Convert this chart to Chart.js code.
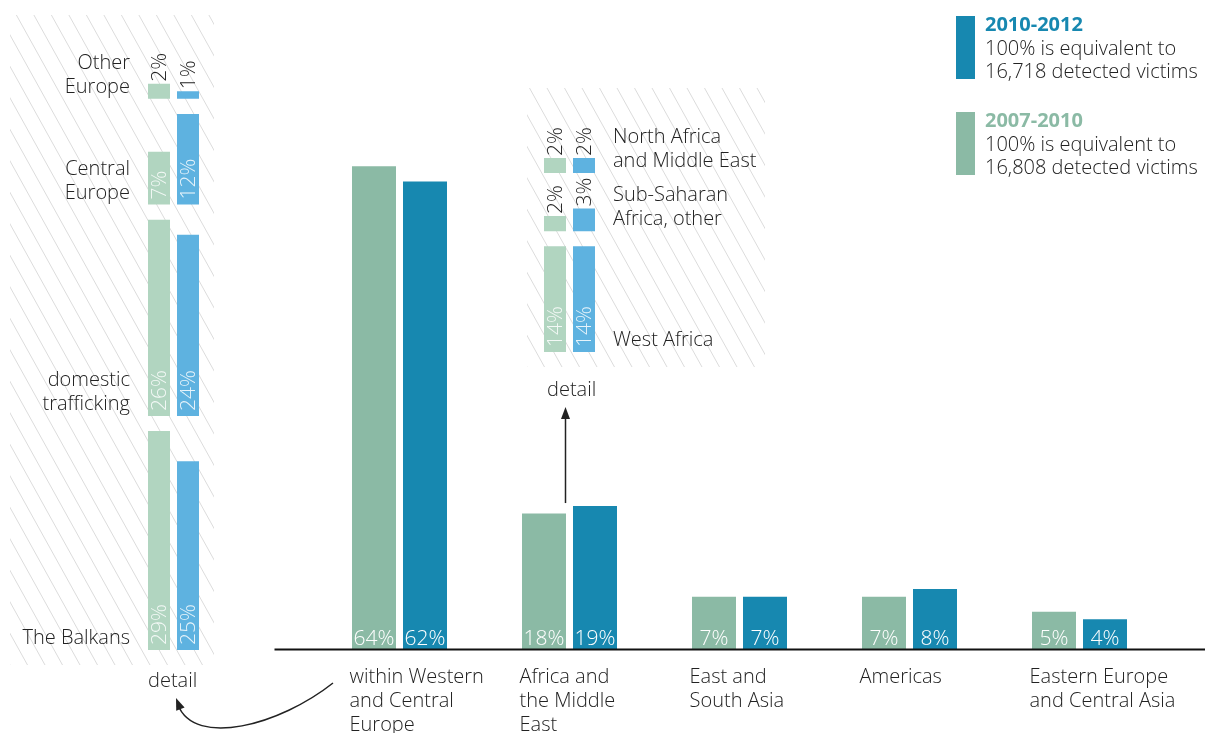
<!DOCTYPE html>
<html>
<head>
<meta charset="utf-8">
<script src="https://cdn.jsdelivr.net/npm/chart.js@4"></script>
<style>
body { margin: 0; width: 1205px; height: 733px; overflow: hidden; background: #fff; position: relative;
       font-family: "Open Sans", sans-serif; font-weight: 300; color: #222; }
canvas { position: absolute; }
.leg { position: absolute; left: 956px; }
.leg .sw { position: absolute; left: 0; top: 4px; width: 19px; height: 63px; }
.leg .tx { position: absolute; left: 29px; top: 0; font-size: 20px; line-height: 23.5px; white-space: nowrap; }
.leg b { font-weight: 700; }
.note { position: absolute; font-size: 20px; line-height: 24px; }
</style>
</head>
<body>
<canvas id="main" width="1205" height="733" style="left:0;top:0"></canvas>
<canvas id="europe" width="215" height="733" style="left:0;top:0"></canvas>
<canvas id="africa" width="270" height="400" style="left:520px;top:0"></canvas>
<div id="legend"></div>
<div class="note" style="left:547px;top:377px">detail</div>
<div class="note" style="left:148px;top:668px">detail</div>
<script>
// main chart: share of detected victims by origin
var regions = [['within Western', 'and Central', 'Europe'], ['Africa and', 'the Middle', 'East'],
               ['East and', 'South Asia'], ['Americas'], ['Eastern Europe', 'and Central Asia']];
var share0710 = [64, 18, 7, 7, 5];
var share1012 = [62, 19, 7, 8, 4];
var seriesNames = ['2007-2010', '2010-2012'];
var victimTotals = ['16,808', '16,718'];

// detail: within Western and Central Europe
var europeCats = [['The Balkans'], ['domestic', 'trafficking'], ['Central', 'Europe'], ['Other', 'Europe']];
var europe0710 = [29, 26, 7, 2];
var europe1012 = [25, 24, 12, 1];

// detail: Africa and the Middle East
var africaCats = [['West Africa'], ['Sub-Saharan', 'Africa, other'], ['North Africa', 'and Middle East']];
var africa0710 = [14, 2, 2];
var africa1012 = [14, 3, 2];

var K = 7.55;   // px per percentage point, same for all three charts
var GREEN = '#8bbaa5', BLUE = '#1788b0', LGREEN = '#b1d5c0', LBLUE = '#5eb2e0';
var FONT = '"Open Sans", sans-serif';

Chart.defaults.font.family = FONT;
Chart.defaults.font.weight = 300;
Chart.defaults.color = '#222';

function arrowHead(ctx, x, y, ang) {
	ctx.beginPath();
	ctx.moveTo(x, y);
	ctx.lineTo(x - 12 * Math.cos(ang) + 4.5 * Math.sin(ang), y - 12 * Math.sin(ang) - 4.5 * Math.cos(ang));
	ctx.lineTo(x - 12 * Math.cos(ang) - 4.5 * Math.sin(ang), y - 12 * Math.sin(ang) + 4.5 * Math.cos(ang));
	ctx.closePath();
	ctx.fill();
}

var mainDecor = {
	id: 'mainDecor',
	afterDatasetsDraw: function(chart) {
		var ctx = chart.ctx, area = chart.chartArea, x = chart.scales.x, y = chart.scales.y;
		var y0 = y.getPixelForValue(0);
		ctx.save();
		ctx.strokeStyle = '#111';
		ctx.lineWidth = 2;
		ctx.beginPath();
		ctx.moveTo(area.left - 40, y0);
		ctx.lineTo(chart.width, y0);
		ctx.stroke();

		ctx.font = '300 21px ' + FONT;
		ctx.fillStyle = '#fff';
		ctx.textAlign = 'center';
		ctx.textBaseline = 'alphabetic';
		chart.data.datasets.forEach(function(ds, i) {
			chart.getDatasetMeta(i).data.forEach(function(el, j) {
				ctx.fillText(ds.data[j] + '%', el.x, el.base - 5);
			});
		});

		// arrow from the Africa bars up to its detail
		ctx.strokeStyle = '#222';
		ctx.fillStyle = '#222';
		ctx.lineWidth = 1.5;
		var ax = x.getPixelForValue(1) - 4;
		var top = y.getPixelForValue(Math.max(share0710[1], share1012[1])) - 3;
		ctx.beginPath();
		ctx.moveTo(ax, top);
		ctx.lineTo(ax, 412);
		ctx.stroke();
		arrowHead(ctx, ax, 407, -Math.PI / 2);

		// curved arrow to the Europe detail
		ctx.beginPath();
		ctx.moveTo(333, 683);
		ctx.bezierCurveTo(280, 725, 195, 748, 178, 705);
		ctx.stroke();
		arrowHead(ctx, 176, 698, Math.atan2(705 - 748, 178 - 195));
		ctx.restore();
	}
};

var BASE = 649.5, MAXV = 66;
new Chart(document.getElementById('main'), {
	type: 'bar',
	data: {
		labels: regions,
		datasets: [
			{ label: seriesNames[0], data: share0710, backgroundColor: GREEN },
			{ label: seriesNames[1], data: share1012, backgroundColor: BLUE }
		]
	},
	options: {
		responsive: false,
		animation: false,
		events: [],
		layout: { padding: { left: 314.5, right: 40.5, top: BASE - MAXV * K, bottom: 0 } },
		datasets: { bar: { categoryPercentage: 0.6, barPercentage: 44 / 51 } },
		plugins: { legend: { display: false }, tooltip: { enabled: false } },
		scales: {
			x: {
				grid: { display: false, drawTicks: false },
				border: { display: false },
				ticks: { align: 'start', labelOffset: -50, padding: 16, autoSkip: false, maxRotation: 0,
				         color: '#222', font: { size: 20, weight: 300, lineHeight: 1.2 } },
				afterFit: function(s) {
					s.height = 733 - BASE;
					s.paddingLeft = 0;
					s.paddingRight = 0;
				}
			},
			y: { display: false, min: 0, max: MAXV }
		}
	},
	plugins: [mainDecor]
});

// band bases: each category sits on top of the previous one, with a little air
function bandBases(a, b) {
	var bases = [0];
	for (var i = 0; i < a.length - 1; i++) {
		var m = Math.max(a[i], b[i]);
		bases.push(bases[i] + m + (m < 4 ? 4.7 : 2));
	}
	return bases;
}

function detailChart(id, cats, a, b, o) {
	var bases = bandBases(a, b);
	var last = a.length - 1;
	var yMax = bases[last] + Math.max(a[last], b[last]) + 6;
	var canvas = document.getElementById(id);
	var floating = function(vals) {
		return vals.map(function(v, i) { return { x: 'detail', y: [bases[i], bases[i] + v] }; });
	};
	var decor = {
		id: 'decor',
		beforeDatasetsDraw: function(chart) {
			var ctx = chart.ctx, h = o.hatch;
			ctx.save();
			ctx.beginPath();
			ctx.rect(h[0], h[1], h[2] - h[0], h[3] - h[1]);
			ctx.clip();
			ctx.strokeStyle = '#dcdcdc';
			ctx.lineWidth = 1;
			var run = (h[3] - h[1]) / 1.8;
			ctx.beginPath();
			for (var x = h[0] - run; x < h[2]; x += 17.5) {
				ctx.moveTo(x, h[1]);
				ctx.lineTo(x + run, h[3]);
			}
			ctx.stroke();
			ctx.restore();
		},
		afterDatasetsDraw: function(chart) {
			var ctx = chart.ctx, y = chart.scales.y;
			ctx.save();
			ctx.font = '300 21px ' + FONT;
			[a, b].forEach(function(vals, i) {
				chart.getDatasetMeta(i).data.forEach(function(el, j) {
					var v = vals[j];
					ctx.save();
					if (v >= 4) {
						ctx.translate(el.x, el.base - 5);
						ctx.fillStyle = 'rgba(255,255,255,0.85)';
					} else {
						ctx.translate(el.x, el.y - 2);
						ctx.fillStyle = '#222';
					}
					ctx.rotate(-Math.PI / 2);
					ctx.textAlign = 'left';
					ctx.textBaseline = 'middle';
					ctx.fillText(v + '%', 0, 1);
					ctx.restore();
				});
			});
			ctx.font = '300 20px ' + FONT;
			ctx.fillStyle = '#222';
			ctx.textAlign = o.labelAlign;
			ctx.textBaseline = 'alphabetic';
			cats.forEach(function(lines, i) {
				var yb = y.getPixelForValue(bases[i]) - 6;
				lines.slice().reverse().forEach(function(t, k) {
					ctx.fillText(t, o.labelX, yb - k * 24);
				});
			});
			ctx.restore();
		}
	};
	new Chart(canvas, {
		type: 'bar',
		data: {
			labels: ['detail'],
			datasets: [
				{ label: seriesNames[0], data: floating(a), backgroundColor: LGREEN },
				{ label: seriesNames[1], data: floating(b), backgroundColor: LBLUE }
			]
		},
		options: {
			responsive: false,
			animation: false,
			events: [],
			layout: { padding: { left: o.left, right: canvas.width - o.right,
			                     top: o.base - yMax * K, bottom: canvas.height - o.base } },
			datasets: { bar: { categoryPercentage: 1, barPercentage: 22 / 29 } },
			plugins: { legend: { display: false }, tooltip: { enabled: false } },
			scales: { x: { display: false }, y: { display: false, min: 0, max: yMax } }
		},
		plugins: [decor]
	});
}

detailChart('europe', europeCats, europe0710, europe1012,
	{ left: 144.5, right: 202.5, base: 650, labelX: 130, labelAlign: 'right', hatch: [10, 15, 214, 665] });
detailChart('africa', africaCats, africa0710, africa1012,
	{ left: 20.5, right: 78.5, base: 352, labelX: 93, labelAlign: 'left', hatch: [7, 88, 245, 367] });

// legend, newest period first
var legend = document.getElementById('legend');
[[1, BLUE, 12], [0, GREEN, 108]].forEach(function(l) {
	var d = document.createElement('div');
	d.className = 'leg';
	d.style.top = l[2] + 'px';
	d.innerHTML = '<div class="sw" style="background:' + l[1] + '"></div>' +
		'<div class="tx"><b style="color:' + l[1] + '">' + seriesNames[l[0]] + '</b><br>100% is equivalent to<br>' +
		victimTotals[l[0]] + ' detected victims</div>';
	legend.appendChild(d);
});
</script>
</body>
</html>
